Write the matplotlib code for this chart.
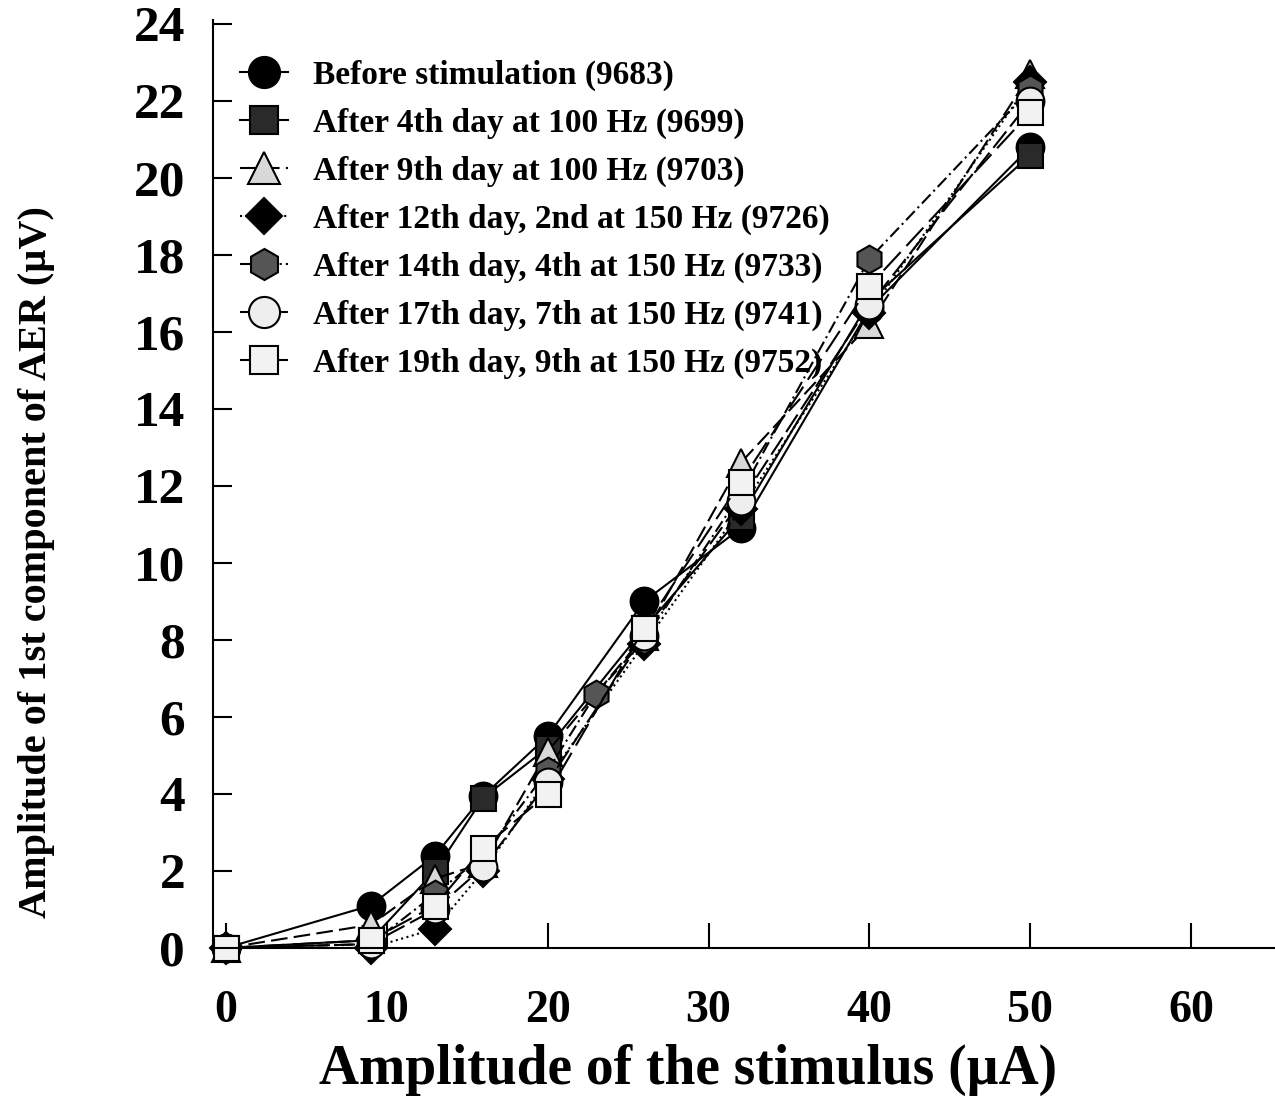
import matplotlib
matplotlib.use("Agg")
import matplotlib.pyplot as plt

plt.rcParams['font.family'] = ['Liberation Serif', 'DejaVu Serif']
plt.rcParams['font.weight'] = 'bold'

labels = [
    "Before stimulation (9683)",
    "After 4th day at 100 Hz (9699)",
    "After 9th day at 100 Hz (9703)",
    "After 12th day, 2nd at 150 Hz (9726)",
    "After 14th day, 4th at 150 Hz (9733)",
    "After 17th day, 7th at 150 Hz (9741)",
    "After 19th day, 9th at 150 Hz (9752)",
]

x_std = [0, 9, 13, 16, 20, 26, 32, 40, 50]
x_hex = [0, 9, 13, 16, 20, 23, 26, 32, 40, 50]

y_before = [0, 1.1, 2.4, 3.95, 5.5, 9.0, 10.9, 16.6, 20.8]
y_d4 = [0, 0.2, 2.0, 3.9, 5.2, 8.3, 11.2, 16.8, 20.6]
y_d9 = [0, 0.6, 1.8, 2.2, 5.1, 8.1, 12.6, 16.2, 22.7]
y_d12 = [0, 0.0, 0.5, 2.0, 4.4, 7.9, 11.4, 16.5, 22.5]
y_d14 = [0, 0.1, 1.4, 2.4, 4.6, 6.6, 8.0, 11.8, 17.9, 22.3]
y_d17 = [0, 0.1, 1.0, 2.1, 4.3, 8.1, 11.6, 16.7, 22.0]
y_d19 = [0, 0.2, 1.1, 2.6, 4.0, 8.3, 12.1, 17.2, 21.7]

xticks = [0, 10, 20, 30, 40, 50, 60]
yticks = [0, 2, 4, 6, 8, 10, 12, 14, 16, 18, 20, 22, 24]

series = [
    (x_std, y_before, 'o', 'black', '-'),
    (x_std, y_d4, 's', '#2a2a2a', '-'),
    (x_std, y_d9, '^', '#d8d8d8', (0, (8, 3))),
    (x_std, y_d12, 'D', 'black', ':'),
    (x_hex, y_d14, 'h', '#555555', (0, (6, 2, 1, 2))),
    (x_std, y_d17, 'o', '#eeeeee', (0, (10, 3))),
    (x_std, y_d19, 's', '#f2f2f2', (0, (12, 4))),
]

fig = plt.figure(figsize=(12.75, 11.1), dpi=100)
ax = fig.add_axes([0.167, 0.146, 0.833, 0.836])

handles = []
for (xs, ys, m, fc, ls), lab in zip(series, labels):
    ms = 20 if m != 'D' else 16
    if m == 's':
        ms = 18
    h, = ax.plot(xs, ys, linestyle=ls, color='black', linewidth=1.5,
                 marker=m, markersize=ms, markerfacecolor=fc,
                 markeredgecolor='black', markeredgewidth=1.5, label=lab,
                 clip_on=False)
    handles.append(h)

ax.set_xlim(-0.8, 65.2)
ax.set_ylim(0, 24.1)
ax.spines['top'].set_visible(False)
ax.spines['right'].set_visible(False)
ax.spines['left'].set_linewidth(1.5)
ax.spines['bottom'].set_linewidth(1.5)

ax.set_xticks(xticks)
ax.set_yticks(yticks)
ax.tick_params(axis='x', direction='in', length=18, width=1.5, labelsize=33, pad=30)
ax.tick_params(axis='y', direction='in', length=14, width=1.5, labelsize=37, pad=20)
for t in ax.get_xticklabels() + ax.get_yticklabels():
    t.set_fontweight('bold')

ax.set_xlabel("Amplitude of the stimulus (\u00b5A)", fontsize=40, fontweight='bold')
ax.set_ylabel("Amplitude of 1st component of AER (\u00b5V)", fontsize=29, fontweight='bold')
ax.xaxis.set_label_coords(0.447, -0.103)
ax.yaxis.set_label_coords(-0.149, 0.416)

leg = ax.legend(handles=handles, loc='upper left', bbox_to_anchor=(240/1275, 1 - 60/1110),
                bbox_transform=fig.transFigure, frameon=False, fontsize=24,
                handlelength=1.45, handletextpad=0.75, labelspacing=0.5,
                borderpad=0, borderaxespad=0, markerscale=1.12)
for t in leg.get_texts():
    t.set_fontweight('bold')

fig.savefig("out.png", dpi=100)
